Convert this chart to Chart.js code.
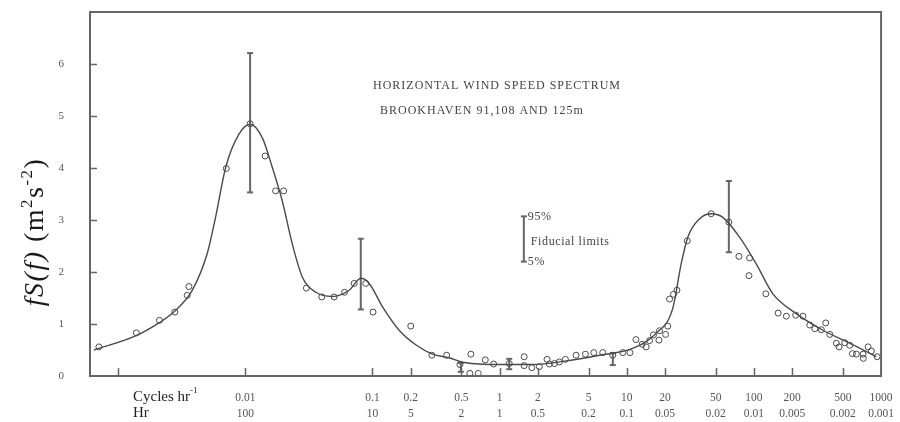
<!DOCTYPE html>
<html>
<head>
<meta charset="utf-8">
<script src="https://cdn.jsdelivr.net/npm/chart.js@4"></script>
<style>
  html, body { margin: 0; padding: 0; background: #fff; }
  #wrap { width: 900px; height: 422px; }
</style>
</head>
<body>
<div id="wrap"><canvas id="c" width="900" height="422"></canvas></div>
<script>
// x ticks (cycles per hour) and the two label rows
const xTicks   = [0.001, 0.01, 0.1, 0.2, 0.5, 1, 2, 5, 10, 20, 50, 100, 200, 500, 1000];
const cycLabel = ['', '0.01', '0.1', '0.2', '0.5', '1', '2', '5', '10', '20', '50', '100', '200', '500', '1000'];
const hrLabel  = ['', '100', '10', '5', '2', '1', '0.5', '0.2', '0.1', '0.05', '0.02', '0.01', '0.005', '0.002', '0.001'];
const yTicks = [0, 1, 2, 3, 4, 5, 6];

// smooth fitted curve
const curveF = [0.000644, 0.00137, 0.00209, 0.00282, 0.00383, 0.00502, 0.00583, 0.0070, 0.00891, 0.0109,
  0.0136, 0.0163, 0.0195, 0.0234, 0.0281, 0.0358, 0.0484, 0.0656, 0.0809, 0.0942, 0.12, 0.162, 0.219,
  0.296, 0.398, 0.53, 1.0, 1.82, 3.33, 6.1, 11.1, 17.0, 23.0, 26.8, 30.2, 37.3, 46.1, 57.0, 77.1, 104,
  141, 215, 349, 567, 918];
const curveS = [0.50, 0.77, 1.02, 1.26, 1.65, 2.36, 3.05, 4.01, 4.65, 4.84,
  4.58, 4.01, 3.37, 2.54, 1.90, 1.61, 1.53, 1.65, 1.88, 1.78, 1.33, 0.88, 0.60,
  0.42, 0.35, 0.26, 0.22, 0.22, 0.29, 0.40, 0.53, 0.82, 1.30, 2.16, 2.67, 3.02, 3.12, 3.05, 2.67, 2.16,
  1.58, 1.20, 0.88, 0.63, 0.37];

// observed spectral estimates (open circles)
const obsF = [0.000705, 0.00139, 0.00211, 0.00279, 0.00349, 0.00360, 0.00708, 0.0109, 0.0143, 0.0173, 0.0200,
  0.0302, 0.0399, 0.0499, 0.0603, 0.0718, 0.0885, 0.101, 0.200, 0.293, 0.383, 0.487, 0.583, 0.679, 0.594,
  0.771, 0.897, 1.19, 1.56, 1.56, 1.79, 2.05, 2.36, 2.46, 2.70, 2.95, 3.29, 3.99, 4.73, 5.50, 6.47, 7.76,
  9.31, 10.6, 11.8, 13.2, 14.2, 15.1, 16.2, 17.9, 18.1, 20.2, 21.0, 21.7, 23.3, 24.8, 29.9, 46.1, 63.5,
  76.2, 92.5, 91.4, 124, 155, 180, 213, 243, 275, 301, 339, 367, 395, 445, 467, 518, 567, 595, 640, 722,
  725, 791, 839, 931];
const obsS = [0.56, 0.83, 1.07, 1.23, 1.55, 1.72, 3.99, 4.85, 4.23, 3.56, 3.56,
  1.69, 1.52, 1.52, 1.61, 1.78, 1.78, 1.23, 0.96, 0.40, 0.40, 0.22, 0.05, 0.05, 0.42,
  0.31, 0.23, 0.24, 0.37, 0.20, 0.16, 0.18, 0.32, 0.23, 0.24, 0.27, 0.32, 0.40, 0.42, 0.45, 0.45, 0.40,
  0.45, 0.45, 0.70, 0.61, 0.56, 0.68, 0.79, 0.69, 0.87, 0.80, 0.96, 1.48, 1.57, 1.65, 2.60, 3.12, 2.96,
  2.30, 2.27, 1.93, 1.58, 1.21, 1.15, 1.17, 1.15, 0.98, 0.91, 0.89, 1.02, 0.80, 0.63, 0.56, 0.64, 0.59, 0.43, 0.42, 0.42,
  0.34, 0.56, 0.48, 0.37];

// fiducial limits (5% .. 95%)
const barF  = [0.0109, 0.0809, 63.5, 0.495, 1.19, 7.76];
const barLo = [3.53, 1.28, 2.38, 0.08, 0.13, 0.21];
const barHi = [6.21, 2.64, 3.75, 0.25, 0.33, 0.44];
// key bar beside "Fiducial limits"
const keyF = 1.55, keyLo = 2.20, keyHi = 3.07;

const ink = '#4a4a4a';
const serif = '"Liberation Serif", "DejaVu Serif", serif';

const datasets = [];
datasets.push({
  label: 'curve', showLine: true, borderColor: ink, borderWidth: 1.4, pointRadius: 0,
  cubicInterpolationMode: 'monotone',
  data: curveF.map((f, i) => ({x: f, y: curveS[i]}))
});
datasets.push({
  label: 'obs', showLine: false, pointRadius: 3, borderColor: ink, borderWidth: 1,
  backgroundColor: 'rgba(255,255,255,0)',
  data: obsF.map((f, i) => ({x: f, y: obsS[i]}))
});
barF.forEach((f, i) => {
  datasets.push({
    label: 'bar' + i, showLine: true, borderColor: '#666', borderWidth: 2,
    pointStyle: 'line', pointRadius: 3, pointBorderWidth: 2, pointBorderColor: '#666',
    data: [{x: f, y: barLo[i]}, {x: f, y: barHi[i]}]
  });
});
datasets.push({
  label: 'key', showLine: true, borderColor: '#666', borderWidth: 2,
  pointStyle: 'line', pointRadius: 3, pointBorderWidth: 2, pointBorderColor: '#666',
  data: [{x: keyF, y: keyLo}, {x: keyF, y: keyHi}]
});

function supText(ctx, parts, x, y, size) {
  // parts: [text, isSup, italic]
  let cx = x;
  parts.forEach(p => {
    const s = p[1] ? size * 0.6 : size;
    ctx.font = (p[2] ? 'italic ' : '') + s + 'px ' + serif;
    ctx.fillText(p[0], cx, p[1] ? y - size * 0.4 : y);
    cx += ctx.measureText(p[0]).width;
  });
  return cx - x;
}
function measureParts(ctx, parts, size) {
  let w = 0;
  parts.forEach(p => {
    const s = p[1] ? size * 0.6 : size;
    ctx.font = (p[2] ? 'italic ' : '') + s + 'px ' + serif;
    w += ctx.measureText(p[0]).width;
  });
  return w;
}

const decor = {
  id: 'decor',
  afterDraw(chart) {
    const ctx = chart.ctx, a = chart.chartArea;
    const xs = chart.scales.x, ys = chart.scales.y;
    ctx.save();
    // frame
    ctx.strokeStyle = '#666';
    ctx.lineWidth = 2;
    ctx.strokeRect(a.left, a.top, a.right - a.left, a.bottom - a.top);
    // inward tick marks
    ctx.lineWidth = 1.5;
    ctx.beginPath();
    xTicks.forEach(v => {
      if (v >= 1000) return;
      const px = Math.round(xs.getPixelForValue(v)) + 0.5;
      ctx.moveTo(px, a.bottom);
      ctx.lineTo(px, a.bottom - 8);
    });
    yTicks.forEach(v => {
      if (v === 0) return;
      const py = Math.round(ys.getPixelForValue(v)) + 0.5;
      ctx.moveTo(a.left, py);
      ctx.lineTo(a.left + 7, py);
    });
    ctx.stroke();

    // y axis title
    ctx.fillStyle = '#1a1a1a';
    ctx.textBaseline = 'alphabetic';
    ctx.textAlign = 'left';
    ctx.letterSpacing = '1.5px';
    const tparts = [['fS(f)', false, true], [' (m', false, false], ['2', true, false], ['s', false, false], ['-2', true, false], [')', false, false]];
    const tsize = 28;
    const tw = measureParts(ctx, tparts, tsize);
    ctx.save();
    ctx.translate(43, 232);
    ctx.rotate(-Math.PI / 2);
    supText(ctx, tparts, -tw / 2, 0, tsize);
    ctx.restore();
    ctx.letterSpacing = '0px';

    // row names under the x axis
    ctx.fillStyle = '#222';
    ctx.textBaseline = 'middle';
    supText(ctx, [['Cycles hr', false, false], ['-1', true, false]], 133, 397, 15);
    ctx.font = '15px ' + serif;
    ctx.fillText('Hr', 133, 413);

    // chart title
    ctx.fillStyle = '#444';
    ctx.font = '12px ' + serif;
    ctx.letterSpacing = '1px';
    ctx.fillText('HORIZONTAL WIND SPEED SPECTRUM', 373, 86);
    ctx.fillText('BROOKHAVEN 91,108 AND 125m', 380, 111);

    // fiducial key text
    ctx.font = '12px ' + serif;
    ctx.letterSpacing = '0.6px';
    const kx = xs.getPixelForValue(keyF);
    ctx.fillText('95%', kx + 4, ys.getPixelForValue(keyHi));
    ctx.fillText('Fiducial limits', kx + 7, ys.getPixelForValue((keyHi + keyLo) / 2) + 3);
    ctx.fillText('5%', kx + 4, ys.getPixelForValue(keyLo));
    ctx.letterSpacing = '0px';
    ctx.restore();
  }
};

new Chart(document.getElementById('c'), {
  type: 'scatter',
  data: { datasets: datasets },
  options: {
    responsive: false,
    animation: false,
    layout: { padding: { left: 0, right: 15, top: 12, bottom: 0 } },
    plugins: { legend: { display: false }, tooltip: { enabled: false } },
    scales: {
      x: {
        type: 'logarithmic',
        min: 0.00062, max: 1000,
        grid: { display: false },
        border: { display: false },
        afterBuildTicks: s => { s.ticks = xTicks.map(v => ({ value: v })); },
        afterFit: s => { s.height = 46; s.paddingTop = 0; s.paddingBottom = 0; },
        ticks: {
          autoSkip: false, maxRotation: 0, padding: 6,
          color: '#555',
          font: { family: serif, size: 11.5, lineHeight: 1.4 },
          callback: (v, i) => cycLabel[i] === '' ? '' : [cycLabel[i], hrLabel[i]]
        }
      },
      y: {
        min: 0, max: 7,
        grid: { display: false },
        border: { display: false },
        afterBuildTicks: s => { s.ticks = yTicks.map(v => ({ value: v })); },
        afterFit: s => { s.width = 90; s.paddingTop = 0; s.paddingBottom = 0; },
        ticks: {
          padding: 18, color: '#555',
          font: { family: serif, size: 11 }
        }
      }
    }
  },
  plugins: [decor]
});
</script>
</body>
</html>
